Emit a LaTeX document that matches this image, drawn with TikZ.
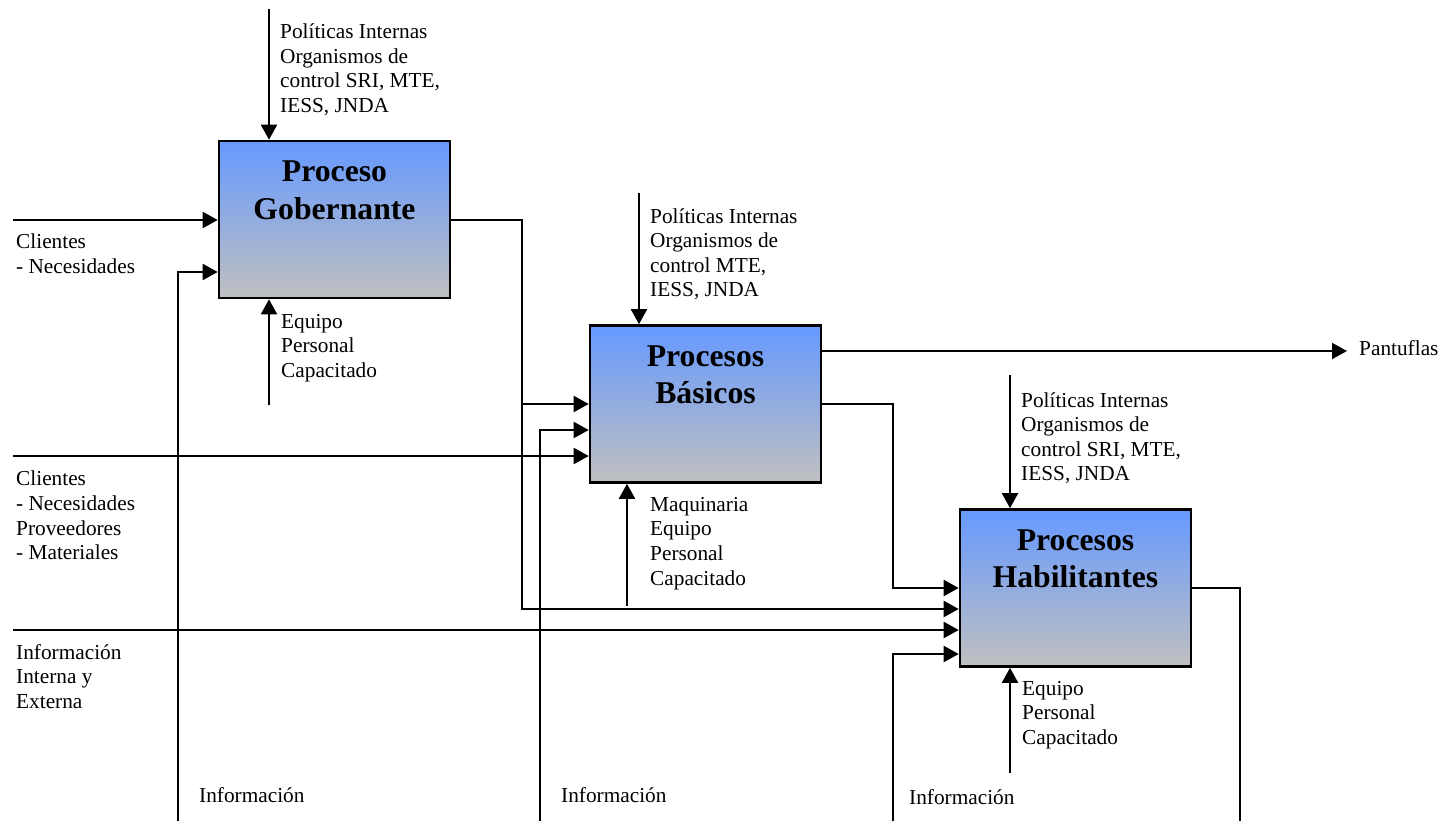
\documentclass[tikz,border=0pt]{standalone}
\usepackage{fontspec}
\setmainfont{Liberation Serif}
\usetikzlibrary{arrows.meta, positioning}

\definecolor{procblue}{RGB}{102,153,255}
\definecolor{procgray}{RGB}{192,192,192}

\begin{document}
\begin{tikzpicture}[x=1pt, y=-1pt,
    proc/.style={draw, line width=2.6pt, minimum width=231pt, minimum height=157pt,
      inner sep=0pt, top color=procblue, bottom color=procgray},
    title/.style={anchor=north, inner sep=0pt, align=center,
      font=\fontsize{31.7}{37.5}\selectfont\bfseries},
    lbl/.style={anchor=north west, inner sep=0pt, align=left,
      font=\fontsize{21.3}{24.6}\selectfont},
    wire/.style={line width=2pt},
    flow/.style={wire, -{Triangle[length=15pt,width=16pt]}}]
    \useasboundingbox (0,0) rectangle (1442,821);

    % the three process boxes
    \node[proc] (gob) at (334.5,219.5) {};
    \node[proc] (bas) at (705.5,404) {};
    \node[proc] (hab) at (1075.5,588) {};
    \node[title] (gobT) at ([yshift=-21pt]gob.north) {Proceso\\Gobernante};
    \node[title] (basT) at ([yshift=-21pt]bas.north) {Procesos\\Básicos};
    \node[title] (habT) at ([yshift=-21pt]hab.north) {Procesos\\Habilitantes};

    % free ends of the arrows
    \coordinate (gobCtl) at (269,9);
    \coordinate (gobMec) at (269,405);
    \coordinate (gobIn) at (13,220);
    \coordinate (gobInf) at (178,821);
    \coordinate (basCtl) at (639,193);
    \coordinate (basMec) at (627,606);
    \coordinate (basIn) at (13,456);
    \coordinate (basInf) at (540,821);
    \coordinate (basOut) at (1347,351);
    \coordinate (basBend) at (893,404);
    \coordinate (habCtl) at (1010,375);
    \coordinate (habMec) at (1010,773);
    \coordinate (habIn) at (13,630);
    \coordinate (habInf) at (893,821);
    \coordinate (habEnd) at (1240,821);

    % Proceso Gobernante
    \draw[flow] (gobCtl) -- (gobCtl |- gob.north);
    \draw[flow] (gobMec) -- (gobMec |- gob.south);
    \draw[flow] (gobIn) -- (gobIn -| gob.west);
    \draw[flow] (gobInf) -- (178,272) -- (178,272 -| gob.west);
    \draw[flow] (gob.east) -| (522,609) -- (522,609 -| hab.west);
    \draw[flow] (522,404) -- (bas.west);

    % Procesos Basicos
    \draw[flow] (basCtl) -- (basCtl |- bas.north);
    \draw[flow] (basMec) -- (basMec |- bas.south);
    \draw[flow] (basInf) -- (540,430) -- (540,430 -| bas.west);
    \draw[flow] (basIn) -- (basIn -| bas.west);
    \draw[flow] (bas.east |- basOut) -- (basOut);
    \draw[flow] (bas.east) -- (basBend) -- (hab.west -| basBend) -- (hab.west);

    % Procesos Habilitantes
    \draw[flow] (habCtl) -- (habCtl |- hab.north);
    \draw[flow] (habMec) -- (habMec |- hab.south);
    \draw[flow] (habIn) -- (habIn -| hab.west);
    \draw[flow] (habInf) -- (893,654) -- (893,654 -| hab.west);
    \draw[wire] (hab.east) -| (habEnd);

    % labels
    \node[lbl] (gobCtlT) at (280,23.5) {Políticas Internas\\Organismos de\\control SRI, MTE,\\IESS, JNDA};
    \node[lbl] (gobMecT) at (281,314) {Equipo\\Personal\\Capacitado};
    \node[lbl] (gobInT) at (16,234) {Clientes\\- Necesidades};
    \node[lbl] (basCtlT) at (650,208) {Políticas Internas\\Organismos de\\control MTE,\\IESS, JNDA};
    \node[lbl] (basMecT) at (650,497) {Maquinaria\\Equipo\\Personal\\Capacitado};
    \node[lbl] (basInT) at (16,471) {Clientes\\- Necesidades\\Proveedores\\- Materiales};
    \node[lbl] (basOutT) at (1359,340) {Pantuflas};
    \node[lbl] (habCtlT) at (1021,392) {Políticas Internas\\Organismos de\\control SRI, MTE,\\IESS, JNDA};
    \node[lbl] (habMecT) at (1022,681) {Equipo\\Personal\\Capacitado};
    \node[lbl] (habInT) at (16,644) {Información\\Interna y\\Externa};
    \node[lbl] (gobInfT) at (199,787) {Información};
    \node[lbl] (basInfT) at (561,787) {Información};
    \node[lbl] (habInfT) at (909,789) {Información};
\end{tikzpicture}
\end{document}
